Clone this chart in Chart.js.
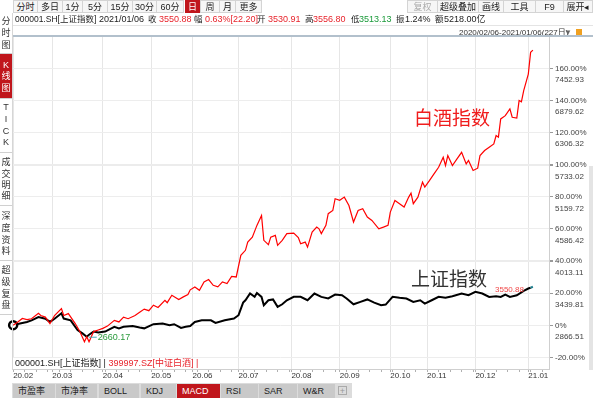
<!DOCTYPE html>
<html>
<head>
<meta charset="utf-8">
<script src="https://cdn.jsdelivr.net/npm/chart.js@4.4.1/dist/chart.umd.min.js"></script>
<style>
body{margin:0;width:593px;height:398px;overflow:hidden;background:#fff;position:relative;font-family:"Liberation Sans","Noto Sans CJK SC",sans-serif;color:#222;}
.a{position:absolute;white-space:nowrap;}
.btn{position:absolute;top:0;height:13px;line-height:13px;font-size:9px;text-align:center;border:1px solid #d4d4d4;box-sizing:border-box;background:#f6f6f6;color:#222;}
.info{position:absolute;top:13px;font-size:8.5px;line-height:12px;}
.info.n{font-size:9px}
.red{color:#e8242c}
.grn{color:#1a9a3a}
.ch{position:absolute;left:0;width:12px;text-align:center;font-size:9px;line-height:10px;color:#333;}
.sep{position:absolute;left:0;width:12px;height:1px;background:#d0d0d0;}
.tab{position:absolute;top:384px;height:14px;line-height:14px;font-size:9px;background:#c9c9c9;color:#222;padding-left:5px;box-sizing:border-box;}
canvas{position:absolute;left:0;top:0;}
</style>
</head>
<body>
<canvas id="chart" width="593" height="398"></canvas>

<!-- top toolbar -->
<div class="btn" style="left:13px;width:25px">分时</div>
<div class="btn" style="left:37px;width:26px">多日</div>
<div class="btn" style="left:62px;width:21px">1分</div>
<div class="btn" style="left:82px;width:26px">5分</div>
<div class="btn" style="left:107px;width:26px">15分</div>
<div class="btn" style="left:132px;width:25px">30分</div>
<div class="btn" style="left:156px;width:28px">60分</div>
<div class="btn" style="left:185px;width:15px;background:#c0161c;color:#fff;border-color:#c0161c">日</div>
<div class="btn" style="left:200px;width:20px">周</div>
<div class="btn" style="left:219px;width:17px">月</div>
<div class="btn" style="left:235px;width:27px">更多</div>
<div class="btn" style="left:407px;width:31px;color:#aaa">复权</div>
<div class="btn" style="left:437px;width:42px">超级叠加</div>
<div class="btn" style="left:478px;width:26px">画线</div>
<div class="btn" style="left:503px;width:33px">工具</div>
<div class="btn" style="left:535px;width:29px">F9</div>
<div class="btn" style="left:563px;width:30px">展开◂</div>

<!-- quote line -->
<div class="info" style="left:15px">000001.SH[上证指数]</div>
<div class="info n" style="left:99px">2021/01/06</div>
<div class="info" style="left:148px">收</div>
<div class="info n red" style="left:159px">3550.88</div>
<div class="info" style="left:194px">幅</div>
<div class="info n red" style="left:205px">0.63%[22.20]</div>
<div class="info" style="left:257px">开</div>
<div class="info n red" style="left:268px">3530.91</div>
<div class="info" style="left:305px">高</div>
<div class="info n red" style="left:313px">3556.80</div>
<div class="info" style="left:351px">低</div>
<div class="info n grn" style="left:359px">3513.13</div>
<div class="info" style="left:396px">振</div>
<div class="info n" style="left:405px">1.24%</div>
<div class="info" style="left:435px">额</div>
<div class="info n" style="left:444px">5218.00亿</div>
<div class="a" style="left:12px;top:25px;width:581px;height:1px;background:#e4e4e4"></div>

<!-- range line -->
<div class="a" style="left:459px;top:28px;font-size:8px;line-height:9px;text-decoration:underline;color:#333">2020/02/06-2021/01/06(227日)</div>
<div class="a" style="left:564px;top:28px;font-size:8px;line-height:9px;color:#666">▼</div>
<div class="a" style="left:576px;top:29px;width:6px;height:6px;background:#f0a020"></div>
<div class="a" style="left:12px;top:35px;width:581px;height:2px;background:#b2c0cc"></div>

<!-- left vertical tabs -->
<div class="a" style="left:12px;top:13px;width:1px;height:357px;background:#d6d6d6"></div>
<div class="a" style="left:0;top:54px;width:12px;height:44px;background:#c0161c"></div>
<div id="side"></div>

<!-- right scrollbar strip -->
<div class="a" style="left:589px;top:166px;width:4px;height:204px;background:#e4e4e4"></div>

<!-- legend row -->
<div class="a" style="left:13px;top:358px;width:170px;height:11px;background:#fff;font-size:9px;line-height:11px;padding-left:2px">000001.SH[上证指数] | <span class="red">399997.SZ[中证白酒] |</span></div>

<!-- bottom tabs -->
<div class="a" style="left:12px;top:383px;width:340px;height:15px;background:#dcdcdc"></div>
<div class="tab" style="left:13px;width:42px">市盈率</div>
<div class="tab" style="left:56px;width:41px">市净率</div>
<div class="tab" style="left:99px;width:40px">BOLL</div>
<div class="tab" style="left:141px;width:35px">KDJ</div>
<div class="tab" style="left:177px;width:43px;background:#c0161c;color:#fff">MACD</div>
<div class="tab" style="left:221px;width:37px">RSI</div>
<div class="tab" style="left:259px;width:38px">SAR</div>
<div class="tab" style="left:298px;width:37px">W&amp;R</div>
<div class="a" style="left:338px;top:386px;width:9px;height:9px;border:1px solid #aaa;font-size:9px;line-height:9px;text-align:center;color:#999;box-sizing:border-box">+</div>

<script>
// axis labels
const months = ['20.02', '20.03', '20.04', '20.05', '20.06', '20.07', '20.08', '20.09', '20.10', '20.11', '20.12', '21.01'];
const monthIdx = [0, 17, 39, 60, 78, 98, 121, 142, 164, 180, 201, 224];
const pctTicks = [-20, 0, 20, 40, 60, 80, 100, 120, 140, 160];
const pctLabels = ['-20.00%', '0%', '20.00%', '40.00%', '60.00%', '80.00%', '100.00%', '120.00%', '140.00%', '160.00%'];
const priceLabels = ['', '2866.51', '3439.81', '4013.11', '4586.42', '5159.72', '5733.02', '6306.32', '6879.62', '7452.93'];

// 399997.SZ 中证白酒, % change since 2020/02/06 (x = trading day index)
const liquorIdx = [0, 2, 4, 6, 8, 11, 12, 14, 16, 18, 21, 22, 24, 27, 29, 31, 32, 33, 35, 37, 39, 41, 44, 46, 48, 50, 53, 55, 57, 59, 61, 63, 66, 67, 69, 72, 74, 76, 77, 79, 81, 83, 85, 87, 89, 91, 93, 95, 97, 99, 101, 102, 104, 106, 107, 108, 109, 111, 112, 114, 115, 117, 119, 122, 124, 125, 127, 128, 130, 132, 133, 134, 136, 137, 139, 140, 142, 144, 146, 148, 150, 152, 154, 156, 159, 161, 163, 164, 166, 168, 170, 172, 173, 174, 176, 178, 179, 181, 183, 185, 187, 188, 189, 191, 193, 195, 197, 198, 200, 202, 203, 205, 207, 209, 210, 211, 212, 214, 216, 217, 219, 220, 221, 222, 224, 225, 226];
const liquorPct = [0, 2, 4.2, 3.5, 4, 7.4, 6, 5, 1, 6, 10.3, 6, 7.2, 1, -4, -10.3, -7.2, -10.3, -4, -3, -2, -0.6, 3, 2, 5, 4, 6, 8, 10, 9, 12.4, 11, 15.5, 14, 18.6, 16, 17.6, 19, 22, 23.8, 21.7, 26.9, 28.4, 24.8, 23.8, 26.9, 25.9, 30.4, 30, 43.5, 46.6, 51.7, 54.8, 62.1, 65.2, 68.3, 52.8, 50.1, 54.8, 55.9, 49.7, 52.8, 57, 57.3, 54.5, 50.7, 51.7, 48.6, 58, 61.1, 60, 57, 62.1, 69.4, 71.4, 78.7, 77.7, 79.7, 74.5, 64.2, 71.4, 72.5, 67.3, 65.2, 60, 61, 62.1, 70.4, 77.6, 75.6, 73.5, 79.7, 82.2, 75.6, 79.7, 89, 86, 90, 94.2, 98.3, 104.5, 99.4, 105.6, 99.4, 103.5, 107.6, 100.4, 102.5, 96.3, 97.7, 105.6, 108.7, 110.8, 112.8, 118, 117, 128.4, 130.4, 134.6, 129.4, 128.9, 139.8, 139, 146, 156.3, 169.8, 171.2];

// 000001.SH 上证指数, % change since 2020/02/06
const shIdx = [0, 3, 6, 8, 11, 14, 16, 18, 21, 22, 25, 28, 30, 32, 33, 35, 37, 40, 44, 46, 48, 52, 55, 57, 61, 65, 68, 70, 73, 75, 77, 79, 82, 86, 88, 92, 96, 98, 100, 101, 103, 105, 106, 108, 109, 111, 113, 115, 117, 119, 122, 125, 128, 131, 134, 137, 140, 143, 145, 148, 151, 154, 157, 160, 162, 164, 165, 168, 171, 174, 177, 179, 182, 185, 188, 191, 195, 198, 201, 204, 207, 210, 212, 214, 216, 219, 222, 224, 225, 226];
const shPct = [0, 1, 2, 3, 5, 4, 2, 4, 7.4, 4.1, 3, -3, -5, -7.2, -6, -4, -4.5, -4, -1, -2, -1, -0.6, -1.5, -2, 0.6, 1, 0, 0.6, -1.7, -1, -0.6, 2, 3, 3, 1.4, 3, 4.1, 6.2, 14, 15.5, 19.7, 17.6, 20, 17.6, 12.4, 15.5, 16, 11.4, 13, 15.5, 17.6, 17.6, 15.5, 19.7, 17.6, 16.6, 19, 18.6, 16.6, 13, 14.5, 16, 14, 12.4, 12.8, 16, 17.6, 17, 16.6, 14.5, 15.5, 13.4, 15.5, 17.6, 17, 18, 19.7, 18.6, 20.7, 19.7, 17.6, 18, 17.6, 19, 17.6, 18.6, 21.3, 22.8, 23.3, 23.9];

const lowText = '2660.17';
const closeText = '3550.88';

// side tabs (UI text)
const sideChars = [
  ['分', 21], ['时', 33], ['图', 45],
  ['K', 65], ['线', 76], ['图', 88],
  ['T', 107], ['I', 119], ['C', 131], ['K', 142],
  ['成', 162], ['交', 174], ['明', 185], ['细', 196],
  ['深', 216], ['度', 228], ['资', 240], ['料', 251],
  ['超', 270], ['级', 282], ['复', 294], ['盘', 305]
];
const side = document.getElementById('side');
sideChars.forEach(([c, y], i) => {
  const d = document.createElement('div');
  d.className = 'ch';
  d.style.top = (y - 5) + 'px';
  if (i >= 3 && i <= 5) d.style.color = '#fff';
  d.textContent = c;
  side.appendChild(d);
});
[53, 98, 152, 205, 260, 314].forEach(y => {
  const d = document.createElement('div');
  d.className = 'sep';
  d.style.top = y + 'px';
  side.appendChild(d);
});

Chart.defaults.font.family = '"Liberation Sans", "Noto Sans CJK SC", sans-serif';

const toPts = (xs, ys) => xs.map((x, i) => ({x: x, y: ys[i]}));
const minorIdx = [];
for (let i = 0; i <= 230; i += 5) if (!monthIdx.includes(i)) minorIdx.push(i);

// text labels on the plot
const notes = {
  id: 'notes',
  afterDatasetsDraw(chart) {
    const {ctx, scales: {x, y}} = chart;
    ctx.save();
    ctx.textBaseline = 'middle';
    ctx.font = '19px "Noto Sans CJK SC"';
    ctx.fillStyle = '#f01c1c';
    ctx.fillText('白酒指数', x.getPixelForValue(174.3), y.getPixelForValue(129));
    ctx.fillStyle = '#333';
    ctx.fillText('上证指数', x.getPixelForValue(173), y.getPixelForValue(29));

    const li = shPct.indexOf(Math.min(...shPct));
    const lx = x.getPixelForValue(shIdx[li]), ly = y.getPixelForValue(shPct[li]);
    ctx.strokeStyle = '#41a9b8';
    ctx.lineWidth = 1;
    ctx.beginPath(); ctx.moveTo(lx + 2, ly + 0.5); ctx.lineTo(lx + 10, ly + 0.5); ctx.stroke();
    ctx.font = '9px "Liberation Sans"';
    ctx.fillStyle = '#2a9a3c';
    ctx.fillText(lowText, lx + 11, ly + 1);

    const n = shIdx.length - 1;
    const ex = x.getPixelForValue(shIdx[n]), ey = y.getPixelForValue(shPct[n]);
    ctx.font = '8px "Liberation Sans"';
    ctx.fillStyle = '#f04848';
    ctx.textAlign = 'right';
    ctx.fillText(closeText, ex - 9, ey + 3);
    ctx.restore();
  }
};

new Chart(document.getElementById('chart'), {
  type: 'line',
  data: {
    datasets: [
      {
        label: '399997.SZ[中证白酒]',
        data: toPts(liquorIdx, liquorPct),
        borderColor: '#ff0000',
        borderWidth: 1.2,
        pointRadius: 0,
        tension: 0
      },
      {
        label: '000001.SH[上证指数]',
        data: toPts(shIdx, shPct),
        borderColor: '#000',
        borderWidth: 2,
        pointRadius: c => c.dataIndex === 0 ? 4 : 0,
        pointBackgroundColor: '#fff',
        pointBorderColor: '#000',
        pointBorderWidth: 2.5,
        clip: false,
        tension: 0,
        segment: {borderColor: c => c.p1DataIndex === shIdx.length - 1 ? '#1d7f8e' : '#000'}
      }
    ]
  },
  options: {
    responsive: false,
    animation: false,
    events: [],
    layout: {padding: {left: 12, top: 36, bottom: 16, right: 0}},
    plugins: {legend: {display: false}, tooltip: {enabled: false}},
    scales: {
      x: {
        type: 'linear',
        min: -0.5,
        max: 233,
        afterBuildTicks: s => { s.ticks = monthIdx.concat(minorIdx).sort((a, b) => a - b).map(v => ({value: v})); },
        afterFit: s => { s.height = 13; },
        ticks: {
          autoSkip: false,
          maxRotation: 0,
          align: 'start',
          padding: -1,
          font: {size: 8},
          color: '#333',
          callback: v => { const i = monthIdx.indexOf(v); return i >= 0 ? months[i] : ''; }
        },
        grid: {
          color: c => monthIdx.includes(c.tick.value) ? '#e6e6e6' : 'rgba(0,0,0,0)',
          tickColor: '#b0b0b0',
          tickLength: 3
        },
        border: {color: '#cfcfcf'}
      },
      y: {
        position: 'right',
        min: -27.3,
        max: 180,
        afterBuildTicks: s => { s.ticks = pctTicks.concat([180]).map(v => ({value: v})); },
        afterFit: s => { s.width = 44; },
        ticks: {
          autoSkip: false,
          padding: 2,
          labelOffset: 6,
          font: {size: 8, lineHeight: 1.45},
          color: '#444',
          callback: v => {
            const i = pctTicks.indexOf(v);
            if (i < 0) return '';
            return [pctLabels[i], priceLabels[i]];
          }
        },
        grid: {
          color: c => c.tick.value === 180 ? 'rgba(0,0,0,0)' : ([100, 40].includes(c.tick.value) ? '#ececec' : '#ededed'),
          lineWidth: c => [100, 40].includes(c.tick.value) ? 2 : 1,
          tickColor: c => c.tick.value === 180 ? 'rgba(0,0,0,0)' : '#999',
          tickLength: 4
        },
        border: {color: '#cfcfcf'}
      }
    }
  },
  plugins: [notes]
});
</script>
</body>
</html>
